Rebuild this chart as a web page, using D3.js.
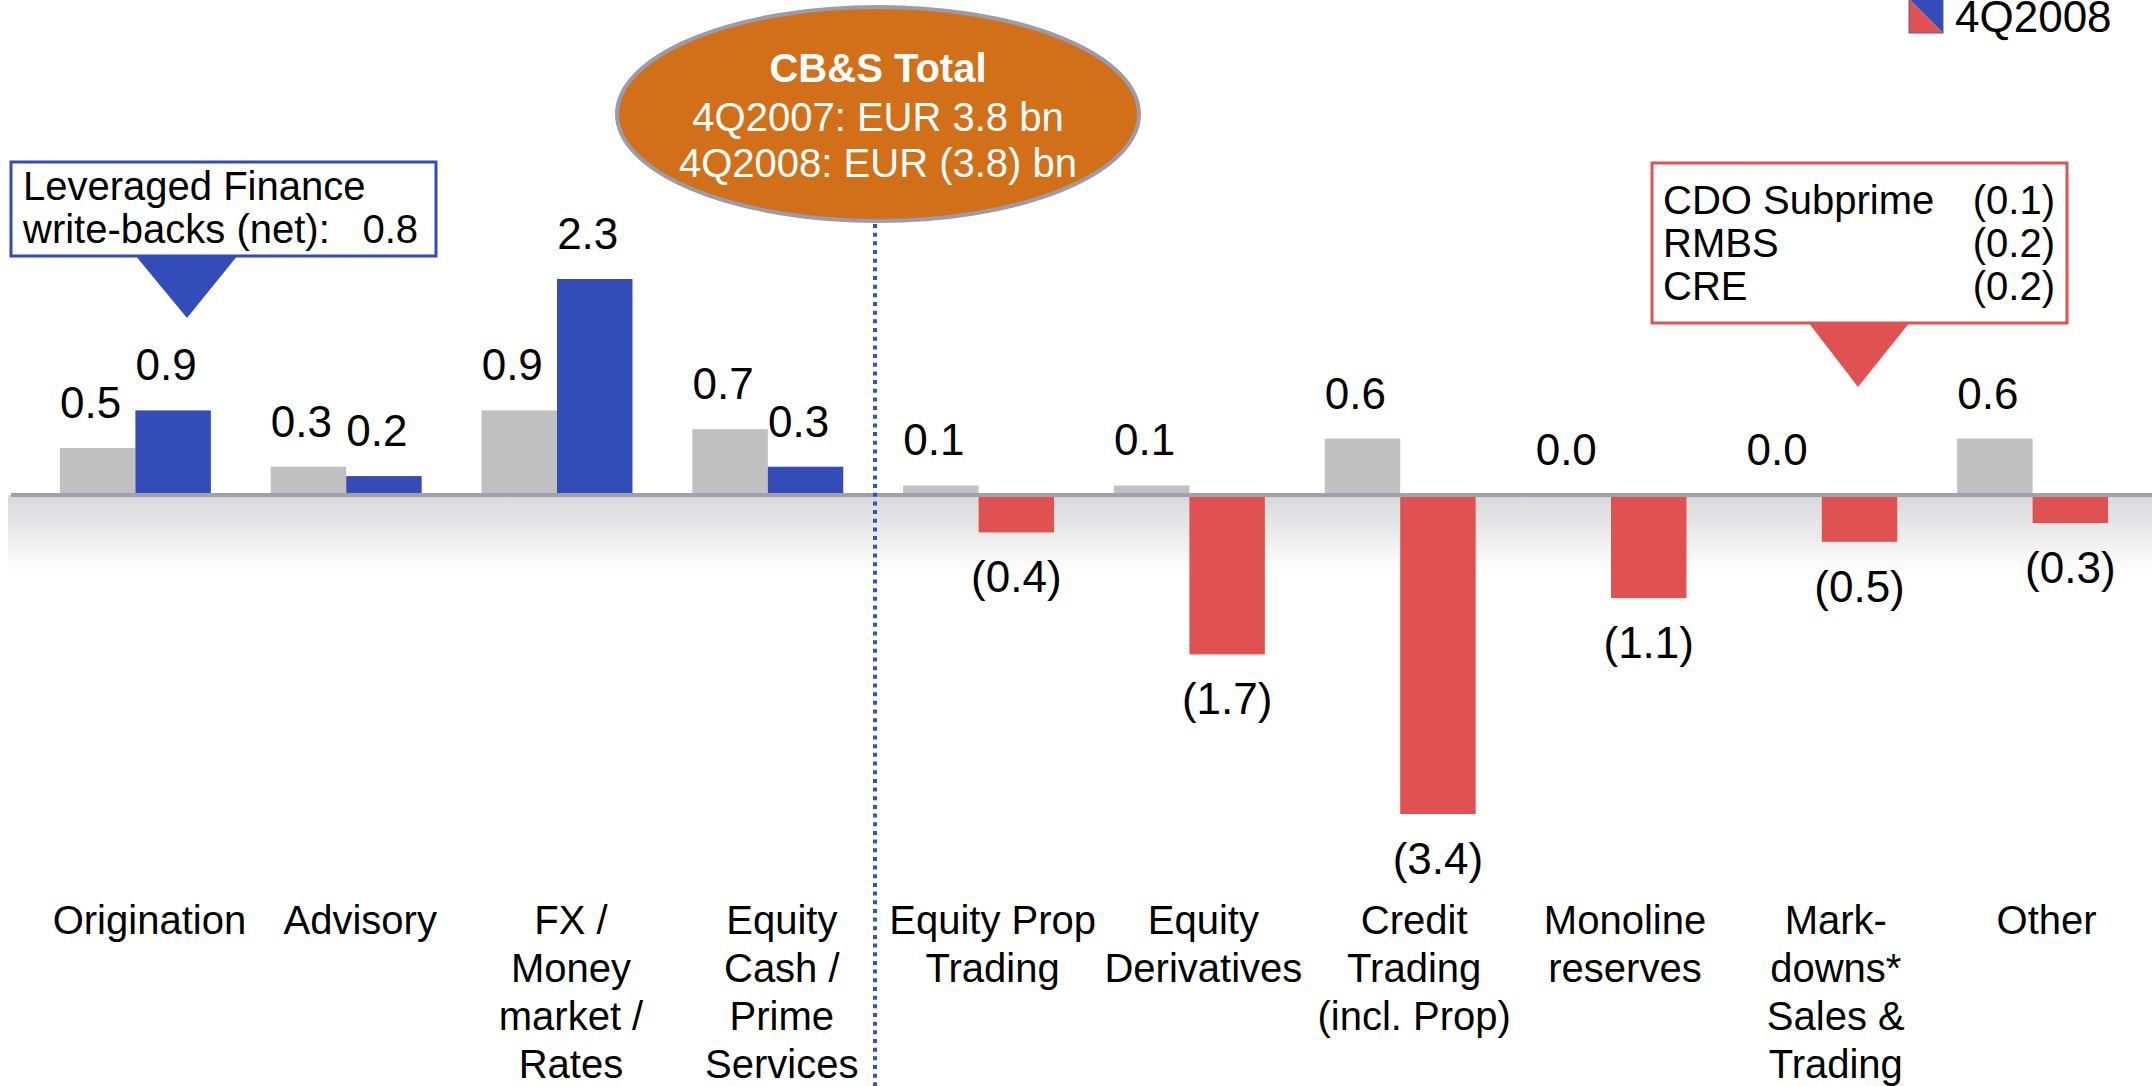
<!DOCTYPE html>
<html>
<head>
<meta charset="utf-8">
<script src="https://cdn.jsdelivr.net/npm/d3@7"></script>
<style>
    body { margin: 0; background: #fff; }
    text { font-family: "Liberation Sans", Arial, sans-serif; fill: #000; }
</style>
</head>
<body>
<div id="chart"></div>
<script>

// Chart data
const categories = ["Origination", "Advisory", "FX", "Equity Cash", "Equity Prop", "Equity Derivatives",
    "Credit Trading", "Monoline", "Mark-downs", "Other"];
const categoryLines = [
    ["Origination"],
    ["Advisory"],
    ["FX /", "Money", "market /", "Rates"],
    ["Equity", "Cash /", "Prime", "Services"],
    ["Equity Prop", "Trading"],
    ["Equity", "Derivatives"],
    ["Credit", "Trading", "(incl. Prop)"],
    ["Monoline", "reserves"],
    ["Mark-", "downs*", "Sales &", "Trading"],
    ["Other"]
];
const values2007 = [0.5, 0.3, 0.9, 0.7, 0.1, 0.1, 0.6, 0.0, 0.0, 0.6];
const values2008 = [0.9, 0.2, 2.3, 0.3, -0.4, -1.7, -3.4, -1.1, -0.5, -0.3];

const leveragedLines = ["Leveraged Finance", "write-backs (net):"];
const leveragedValue = "0.8";
const markdownItems = ["CDO Subprime", "RMBS", "CRE"];
const markdownValues = ["(0.1)", "(0.2)", "(0.2)"];
const totalTitle = "CB&S Total";
const totalLines = ["4Q2007: EUR 3.8 bn", "4Q2008: EUR (3.8) bn"];

const width = 2152, height = 1086;
const grey = "#c0c0c0", blue = "#334cb8", red = "#e05252";

const svg = d3.select("#chart").append("svg")
    .attr("width", width)
    .attr("height", height);

// Scales
const x = d3.scaleBand()
    .domain(categories)
    .range([30, 2138])
    .paddingInner(0.284)
    .paddingOuter(0.142);

const xSub = d3.scaleBand()
    .domain(["2007", "2008"])
    .range([0, x.bandwidth()]);

const y = d3.scaleLinear()
    .domain([-3.4, 2.3])
    .range([814, 279]);

const fmt = v => v < 0 ? "(" + d3.format(".1f")(-v) + ")" : d3.format(".1f")(v);

// Shaded area below the zero line
const defs = svg.append("defs");
const grad = defs.append("linearGradient")
    .attr("id", "floor")
    .attr("x1", 0).attr("y1", 0).attr("x2", 0).attr("y2", 1);
grad.append("stop").attr("offset", "0%").attr("stop-color", "#d8d8da");
grad.append("stop").attr("offset", "100%").attr("stop-color", "#ffffff");

svg.append("rect")
    .attr("x", 8)
    .attr("y", y(0))
    .attr("width", width - 8)
    .attr("height", 78)
    .attr("fill", "url(#floor)");

// Bars
const groups = svg.append("g")
    .selectAll("g")
    .data(categories)
    .enter()
    .append("g")
    .attr("transform", d => "translate(" + x(d) + ",0)");

groups.append("rect")
    .attr("x", xSub("2007"))
    .attr("width", xSub.bandwidth())
    .attr("y", (d, i) => y(Math.max(0, values2007[i])))
    .attr("height", (d, i) => Math.abs(y(values2007[i]) - y(0)))
    .attr("fill", grey);

groups.append("rect")
    .attr("x", xSub("2008"))
    .attr("width", xSub.bandwidth())
    .attr("y", (d, i) => y(Math.max(0, values2008[i])))
    .attr("height", (d, i) => Math.abs(y(values2008[i]) - y(0)))
    .attr("fill", (d, i) => values2008[i] < 0 ? red : blue);

// Zero line
svg.append("line")
    .attr("x1", 11).attr("x2", width)
    .attr("y1", y(0)).attr("y2", y(0))
    .attr("stroke", "#a0a0ae")
    .attr("stroke-width", 4);

// Dotted divider
svg.append("line")
    .attr("x1", 875).attr("x2", 875)
    .attr("y1", 224).attr("y2", height)
    .attr("stroke", "#3a50c8")
    .attr("stroke-width", 4)
    .attr("stroke-dasharray", "4,4.67");

// Value labels
groups.append("text")
    .attr("x", xSub("2007") + xSub.bandwidth() / 2 - 7)
    .attr("y", (d, i) => y(values2007[i]) - 30)
    .attr("text-anchor", "middle")
    .style("font-size", "44px")
    .text((d, i) => fmt(values2007[i]));

groups.append("text")
    .attr("x", (d, i) => xSub("2008") + xSub.bandwidth() / 2 - (values2008[i] < 0 ? 0 : 7))
    .attr("y", (d, i) => values2008[i] < 0 ? y(values2008[i]) + 60 : y(values2008[i]) - 30)
    .attr("text-anchor", "middle")
    .style("font-size", "44px")
    .text((d, i) => fmt(values2008[i]));

// Category labels
const catText = groups.append("text")
    .attr("text-anchor", "middle")
    .style("font-size", "40px");

catText.selectAll("tspan")
    .data((d, i) => categoryLines[i])
    .enter()
    .append("tspan")
    .attr("x", x.bandwidth() / 2 + 14)
    .attr("y", (d, j) => 934 + j * 48)
    .text(d => d);

// Total ellipse
svg.append("ellipse")
    .attr("cx", 878).attr("cy", 114)
    .attr("rx", 261).attr("ry", 107)
    .attr("fill", "#d2701a")
    .attr("stroke", "#9b9bab")
    .attr("stroke-width", 4);

svg.append("text")
    .attr("x", 878).attr("y", 82)
    .attr("text-anchor", "middle")
    .style("font-size", "40px")
    .style("font-weight", "bold")
    .style("fill", "#fff")
    .text(totalTitle);

svg.append("g").selectAll("text")
    .data(totalLines)
    .enter()
    .append("text")
    .attr("x", 878)
    .attr("y", (d, i) => 131 + i * 46)
    .attr("text-anchor", "middle")
    .style("font-size", "40px")
    .style("fill", "#fff")
    .text(d => d);

// Leveraged Finance callout
svg.append("path")
    .attr("d", "M135,255 L238,255 L187,318 Z")
    .attr("fill", blue);

svg.append("rect")
    .attr("x", 11).attr("y", 162)
    .attr("width", 425).attr("height", 94)
    .attr("fill", "#fff")
    .attr("stroke", blue)
    .attr("stroke-width", 3);

svg.append("g").selectAll("text")
    .data(leveragedLines)
    .enter()
    .append("text")
    .attr("x", 23)
    .attr("y", (d, i) => 200 + i * 43)
    .style("font-size", "40px")
    .text(d => d);

svg.append("text")
    .attr("x", 418).attr("y", 243)
    .attr("text-anchor", "end")
    .style("font-size", "40px")
    .text(leveragedValue);

// Mark-downs callout
svg.append("path")
    .attr("d", "M1808,322 L1910,322 L1858,387 Z")
    .attr("fill", red);

svg.append("rect")
    .attr("x", 1652).attr("y", 163)
    .attr("width", 415).attr("height", 160)
    .attr("fill", "#fff")
    .attr("stroke", red)
    .attr("stroke-width", 3);

svg.append("g").selectAll("text")
    .data(markdownItems)
    .enter()
    .append("text")
    .attr("x", 1663)
    .attr("y", (d, i) => 214 + i * 43)
    .style("font-size", "40px")
    .text(d => d);

svg.append("g").selectAll("text")
    .data(markdownValues)
    .enter()
    .append("text")
    .attr("x", 2055)
    .attr("y", (d, i) => 214 + i * 43)
    .attr("text-anchor", "end")
    .style("font-size", "40px")
    .text(d => d);

// Legend (only the lower entry is in view)
const legend = svg.append("g").attr("transform", "translate(1909,-1)");
legend.append("path").attr("d", "M0,0 L34,0 L34,34 Z").attr("fill", blue);
legend.append("path").attr("d", "M0,0 L34,34 L0,34 Z").attr("fill", red);
legend.append("rect")
    .attr("width", 34).attr("height", 34)
    .attr("fill", "none")
    .attr("stroke", "#5a5aa0")
    .attr("stroke-width", 1);
svg.append("text")
    .attr("x", 1955).attr("y", 32)
    .style("font-size", "44px")
    .text("4Q2008");

</script>
</body>
</html>
